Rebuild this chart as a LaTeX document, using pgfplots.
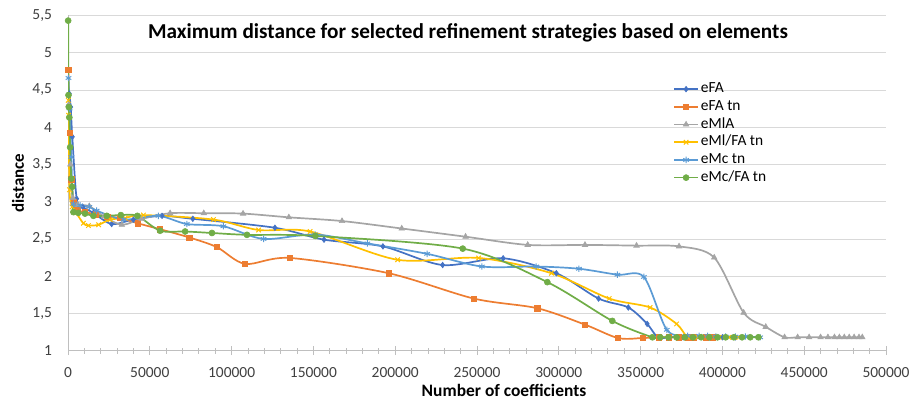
\documentclass[border=0pt]{standalone}
\usepackage{fontspec}
\setmainfont{Carlito}
\usepackage{pgfplots}
\pgfplotsset{compat=1.18}
\definecolor{cFA}{HTML}{4472C4}
\definecolor{cFAtn}{HTML}{ED7D31}
\definecolor{cMlA}{HTML}{A5A5A5}
\definecolor{cMlFA}{HTML}{FFC000}
\definecolor{cMc}{HTML}{5B9BD5}
\definecolor{cMcFA}{HTML}{70AD47}
\definecolor{gridc}{HTML}{D9D9D9}
\definecolor{axc}{HTML}{BFBFBF}
\begin{document}
\begin{tikzpicture}
\path[use as bounding box] (-68bp,-52.3bp) rectangle (849bp,350.7bp);
\begin{axis}[
  at={(0,0)}, anchor=south west,
  width=818bp, height=335.3bp, scale only axis,
  xmin=0, xmax=500000, ymin=1, ymax=5.5,
  xtick={0,50000,...,500000}, minor x tick num=4,
  ytick={1,1.5,2,2.5,3,3.5,4,4.5,5,5.5},
  scaled x ticks=false,
  /pgf/number format/assume math mode=true,
  xticklabel style={/pgf/number format/fixed, /pgf/number format/precision=0, /pgf/number format/1000 sep={}, font=\fontsize{15.5}{17}\selectfont, text=black!75, yshift=-9bp},
  yticklabel style={/pgf/number format/fixed, /pgf/number format/use comma, font=\fontsize{15.5}{17}\selectfont, text=black!75, xshift=-8bp},
  axis x line*=bottom, axis y line*=left,
  axis line style={draw=axc, line width=0.8bp, -},
  tick align=center, major tick length=9bp, minor tick length=6bp,
  x tick style={draw=axc, line width=0.8bp},
  ytick style={draw=none},
  ymajorgrids, grid style={draw=gridc, line width=0.8bp},
  title={Maximum distance for selected refinement strategies based on elements},
  title style={at={(axis description cs:0.489,0.956)}, anchor=center, yshift=-9bp, font=\bfseries\fontsize{21.3}{24}\selectfont},
  xlabel={Number of coefficients},
  xlabel style={at={(axis description cs:0.533,-0.118)}, anchor=center, font=\bfseries\fontsize{17.5}{20}\selectfont},
  ylabel={distance},
  ylabel style={at={(axis description cs:-0.061,0.5)}, anchor=center, font=\bfseries\fontsize{17}{20}\selectfont},
  legend style={at={(0.736,0.813)}, anchor=north west, draw=none, fill=none, font=\fontsize{15.5}{18}\selectfont, row sep=0bp, nodes={text height=11bp, text depth=3.5bp, inner ysep=1.6bp}},
  legend cell align=left,
  legend image code/.code={\draw[mark repeat=2,mark phase=2] plot coordinates {(0bp,0bp)(12bp,0bp)(24bp,0bp)};},
  every axis plot/.append style={smooth, tension=0.5, line width=1.7bp},
]
% eFA
\addplot[color=cFA, mark=diamond*, mark size=2.8bp, mark options={solid, fill=cFA, line width=0.6bp}] coordinates {
(800,4.45) (1650,4.27) (2630,3.87) (5300,3.04) (9000,2.93) (15500,2.85) (26700,2.70) (40000,2.76) (57500,2.81) (76300,2.77) (126500,2.65) (156500,2.49) (192500,2.40) (229000,2.15) (266000,2.24) (298500,2.04) (324300,1.70) (342500,1.58) (354000,1.36) (360500,1.18) (368000,1.18) (376000,1.18) (384000,1.18) (392000,1.18) (400000,1.18) (408000,1.18)
};
\addlegendentry{eFA}
% eFA tn
\addplot[color=cFAtn, mark=square*, mark size=2.6bp, mark options={solid, fill=cFAtn, line width=0.6bp}] coordinates {
(200,4.77) (1000,3.92) (2000,3.3) (3500,3.0) (5700,2.89) (10400,2.86) (17000,2.83) (24000,2.80) (32000,2.78) (42600,2.71) (56300,2.63) (74100,2.52) (91000,2.39) (108300,2.165) (135400,2.245) (196000,2.04) (248000,1.70) (286800,1.57) (316000,1.35) (336200,1.17) (351100,1.17) (360900,1.18) (367400,1.18) (373500,1.18) (378700,1.18) (382700,1.18) (389900,1.18) (394000,1.18)
};
\addlegendentry{eFA tn}
% eMlA
\addplot[color=cMlA, mark=triangle*, mark size=3.2bp, mark options={solid, fill=cMlA, line width=0.6bp}] coordinates {
(300,4.3) (1500,3.5) (3000,3.05) (6000,2.96) (13000,2.94) (22000,2.80) (32900,2.69) (45000,2.77) (62400,2.845) (83000,2.845) (107000,2.84) (135000,2.79) (167500,2.74) (204000,2.64) (243000,2.53) (281000,2.42) (316000,2.42) (347500,2.41) (373500,2.40) (395000,2.25) (413000,1.51) (426500,1.32) (438000,1.18) (446000,1.18) (453000,1.18) (460000,1.18) (464500,1.18) (468500,1.18) (471500,1.18) (474500,1.18) (477500,1.18) (480500,1.18) (483500,1.18) (485500,1.18)
};
\addlegendentry{eMlA}
% eMl/FA tn
\addplot[color=cMlFA, mark=x, mark size=3.2bp, mark options={solid, line width=1bp}] coordinates {
(200,4.36) (400,4.16) (900,3.16) (2500,2.93) (5000,2.85) (9400,2.71) (12500,2.68) (18700,2.69) (25800,2.76) (35000,2.78) (46100,2.82) (88900,2.76) (116500,2.62) (148000,2.60) (201500,2.22) (251000,2.245) (295500,2.04) (330800,1.70) (355800,1.58) (372000,1.36) (378700,1.18) (385000,1.18) (392000,1.18) (398000,1.18) (404000,1.18) (410000,1.18)
};
\addlegendentry{eMl/FA tn}
% eMc tn
\addplot[color=cMc, mark=asterisk, mark size=3.2bp, mark options={solid, line width=1bp}] coordinates {
(300,4.66) (1000,4.25) (2000,3.6) (3300,2.97) (7400,2.95) (13000,2.93) (17500,2.88) (34000,2.76) (55300,2.81) (72600,2.70) (95000,2.67) (119500,2.50) (151000,2.56) (183000,2.44) (219500,2.30) (253000,2.13) (286200,2.13) (312300,2.10) (335800,2.02) (352000,1.99) (366000,1.28) (378700,1.20) (385800,1.20) (390900,1.20) (396000,1.19) (402000,1.19) (408000,1.19) (414000,1.19) (423100,1.18)
};
\addlegendentry{eMc tn}
% eMc/FA tn
\addplot[color=cMcFA, mark=*, mark size=3bp, mark options={solid, fill=cMcFA, line width=0.6bp}] coordinates {
(100,5.43) (300,4.43) (500,4.27) (800,4.13) (1300,3.73) (2000,3.31) (2600,3.20) (3300,2.86) (6300,2.85) (10400,2.84) (15500,2.81) (23700,2.81) (32300,2.82) (42400,2.81) (56300,2.61) (71600,2.60) (88000,2.58) (109400,2.555) (151200,2.54) (241300,2.37) (293000,1.92) (332700,1.40) (357200,1.18) (362000,1.18) (367000,1.18) (372000,1.18) (377000,1.18) (382000,1.18) (387000,1.18) (392000,1.18) (397000,1.18) (402000,1.18) (407000,1.18) (412000,1.18) (417000,1.18) (422000,1.18)
};
\addlegendentry{eMc/FA tn}
\end{axis}
\end{tikzpicture}
\end{document}
